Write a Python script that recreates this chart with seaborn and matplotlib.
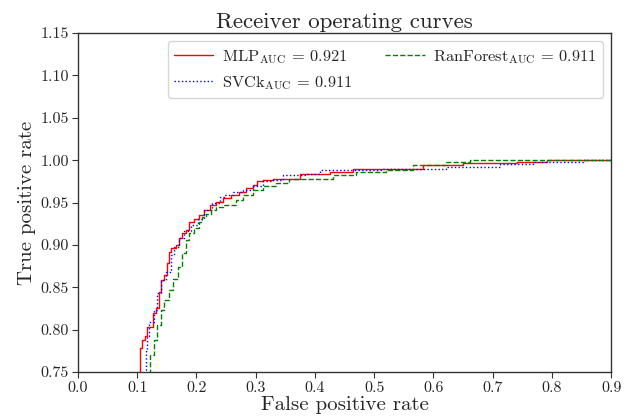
import matplotlib
matplotlib.use("Agg")
import matplotlib.pyplot as plt
import seaborn as sns
import pandas as pd

# ---- data ----
mlp_fpr = [0.0, 0.105, 0.105, 0.108, 0.113, 0.117, 0.126, 0.131, 0.137, 0.140, 0.146, 0.151, 0.154,
           0.157, 0.165, 0.171, 0.176, 0.182, 0.188, 0.196, 0.205, 0.213, 0.222, 0.233, 0.244, 0.258,
           0.272, 0.284, 0.295, 0.303, 0.312, 0.329, 0.374, 0.425, 0.464, 0.582, 0.650, 0.741, 0.792,
           0.899, 1.0]
mlp_tpr = [0.0, 0.70, 0.765, 0.778, 0.788, 0.792, 0.803, 0.820, 0.826, 0.845, 0.859, 0.864, 0.879,
           0.892, 0.896, 0.900, 0.908, 0.914, 0.918, 0.927, 0.931, 0.935, 0.941, 0.947, 0.951, 0.955,
           0.959, 0.963, 0.967, 0.971, 0.975, 0.977, 0.978, 0.984, 0.986, 0.990, 0.994, 0.997, 0.998,
           1.0, 1.0]

svc_fpr = [0.0, 0.114, 0.114, 0.117, 0.120, 0.129, 0.134, 0.140, 0.148, 0.157, 0.162, 0.171, 0.179,
           0.190, 0.202, 0.213, 0.227, 0.239, 0.247, 0.261, 0.278, 0.295, 0.312, 0.329, 0.346, 0.385,
           0.408, 0.515, 0.622, 0.712, 0.768, 0.853, 0.900, 1.0]
svc_tpr = [0.0, 0.70, 0.760, 0.776, 0.792, 0.809, 0.823, 0.843, 0.859, 0.868, 0.888, 0.898, 0.908,
           0.916, 0.923, 0.931, 0.941, 0.949, 0.957, 0.959, 0.963, 0.965, 0.969, 0.975, 0.977, 0.982,
           0.984, 0.988, 0.990, 0.992, 0.995, 0.998, 1.0, 1.0]

rf_fpr = [0.0, 0.122, 0.122, 0.128, 0.134, 0.140, 0.146, 0.153, 0.160, 0.168, 0.176, 0.182, 0.188,
          0.196, 0.205, 0.210, 0.216, 0.225, 0.233, 0.244, 0.267, 0.278, 0.295, 0.312, 0.334, 0.357,
          0.374, 0.430, 0.470, 0.520, 0.565, 0.622, 0.662, 0.746, 0.865, 0.900, 1.0]
rf_tpr = [0.0, 0.70, 0.755, 0.770, 0.788, 0.805, 0.823, 0.835, 0.847, 0.860, 0.874, 0.890, 0.906,
          0.914, 0.920, 0.927, 0.933, 0.937, 0.941, 0.945, 0.947, 0.953, 0.959, 0.965, 0.969, 0.973,
          0.978, 0.978, 0.982, 0.986, 0.988, 0.994, 0.998, 1.0, 1.0, 1.0, 1.0]

labels = [r"MLP$_{\mathrm{AUC}}$ = 0.921", r"SVCk$_{\mathrm{AUC}}$ = 0.911",
          r"RanForest$_{\mathrm{AUC}}$ = 0.911"]

sns.set_style("ticks")
plt.rcParams["font.family"] = "serif"
plt.rcParams["font.serif"] = ["cmr10"]
plt.rcParams["mathtext.fontset"] = "cm"
plt.rcParams["axes.formatter.use_mathtext"] = True
plt.rcParams["axes.unicode_minus"] = False

fig = plt.figure(figsize=(6.34, 4.19), dpi=100)
ax = fig.add_axes([0.123, 0.112, 0.841, 0.809])

series = [(mlp_fpr, mlp_tpr, "red", "-"), (svc_fpr, svc_tpr, "blue", ":"),
          (rf_fpr, rf_tpr, "green", "--")]
for (fx, ty, c, ls), lab in zip(series, labels):
    df = pd.DataFrame({"fpr": fx, "tpr": ty})
    sns.lineplot(data=df, x="fpr", y="tpr", ax=ax, color=c, linestyle=ls, linewidth=1.0,
                 drawstyle="steps-pre", estimator=None, sort=False, label=lab)

ax.set_xlim(0.0, 0.9)
ax.set_ylim(0.75, 1.15)
ax.set_xticks([i / 10 for i in range(10)])
ax.set_yticks([0.75 + 0.05 * i for i in range(9)])
ax.set_xticklabels([f"{i/10:.1f}" for i in range(10)])
ax.set_yticklabels([f"{0.75 + 0.05*i:.2f}" for i in range(9)])
ax.tick_params(labelsize=11.5, direction="out", length=4, width=0.8, color="#333333", pad=2.5)
for s in ax.spines.values():
    s.set_color("#333333")
    s.set_linewidth(1.0)

ax.set_title("Receiver operating curves", fontsize=16.5, pad=4)
ax.set_xlabel("False positive rate", fontsize=15, labelpad=1)
ax.set_ylabel("True positive rate", fontsize=15, labelpad=3)
ax.legend(loc="upper right", ncol=2, fontsize=11.8, handlelength=2.4, columnspacing=2.0,
          frameon=True, edgecolor="0.8", borderaxespad=0.5, handletextpad=0.5)

fig.savefig("out.png", dpi=100)
